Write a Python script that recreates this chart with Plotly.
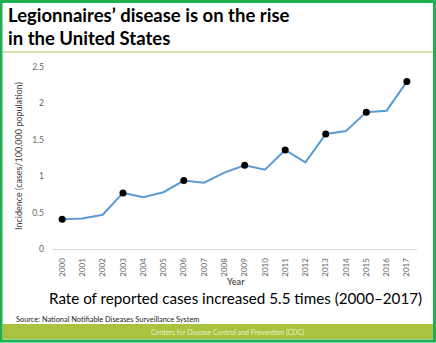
import plotly.graph_objects as go

years = [str(y) for y in range(2000, 2018)]
incidence = [0.41, 0.42, 0.47, 0.77, 0.71, 0.78, 0.94, 0.91, 1.05, 1.15,
             1.09, 1.36, 1.19, 1.58, 1.62, 1.88, 1.90, 2.30]
marked_years = ["2000", "2003", "2006", "2009", "2011", "2013", "2015", "2017"]
y_ticks = [0, 0.5, 1, 1.5, 2, 2.5]
y_tick_labels = ["0", "0.5", "1", "1.5", "2", "2.5"]

marked_vals = [incidence[years.index(y)] for y in marked_years]

W, H = 436, 343
L, R, T, B = 52, 417, 67, 249


def px(x):
    return (x - L) / (R - L)


def py(y):
    return (B - y) / (B - T)


FONT = "Lato"
fig = go.Figure()
fig.add_trace(go.Scatter(x=years, y=incidence, mode="lines",
                         line=dict(color="#5b9bd5", width=2), hoverinfo="skip"))
fig.add_trace(go.Scatter(x=marked_years, y=marked_vals, mode="markers",
                         marker=dict(color="black", size=7), hoverinfo="skip"))

shapes = [
    dict(type="rect", xref="paper", yref="paper", x0=px(1), x1=px(434.5),
         y0=py(341), y1=py(1.5), line=dict(color="#1fae50", width=3),
         fillcolor="rgba(0,0,0,0)", layer="above"),
    dict(type="line", xref="paper", yref="paper", x0=px(3), x1=px(433),
         y0=py(52), y1=py(52), line=dict(color="#c5d68c", width=1.5)),
    dict(type="rect", xref="paper", yref="paper", x0=px(2.5), x1=px(433),
         y0=py(339), y1=py(324), line=dict(width=0), fillcolor="#a9c340", layer="below"),
]


def ann(**kw):
    d = dict(xref="paper", yref="paper", showarrow=False)
    d.update(kw)
    return d


annotations = [
    ann(text="Legionnaires’ disease is on the rise", x=px(6), y=py(15),
        xanchor="left", yanchor="middle", align="left",
        font=dict(family=FONT, size=18.5, color="black", weight="bold")),
    ann(text="in the United States", x=px(6), y=py(38),
        xanchor="left", yanchor="middle", align="left",
        font=dict(family=FONT, size=18.5, color="black", weight="bold")),
    ann(text="Incidence (cases/100,000 population)", x=px(18), y=py(156), textangle=-90,
        xanchor="center", yanchor="middle",
        font=dict(family=FONT, size=9, color="#404040")),
    ann(text="<b>Year</b>", x=px(235), y=py(281), xanchor="center", yanchor="middle",
        font=dict(family=FONT, size=9, color="#595959")),
    ann(text="Rate of reported cases increased 5.5 times (2000–2017)", x=px(235), y=py(298),
        xanchor="center", yanchor="middle",
        font=dict(family=FONT, size=15.2, color="black")),
    ann(text="Source: National Notifiable Diseases Surveillance System", x=px(14), y=py(319),
        xanchor="left", yanchor="middle",
        font=dict(family=FONT, size=7.4, color="#222222")),
    ann(text="Centers for Disease Control and Prevention (CDC)", x=px(227), y=py(332),
        xanchor="center", yanchor="middle",
        font=dict(family=FONT, size=7, color="#e8f0c8")),
]

fig.update_layout(
    width=W, height=H, margin=dict(l=L, r=W - R, t=T, b=H - B),
    paper_bgcolor="white", plot_bgcolor="white", showlegend=False,
    shapes=shapes, annotations=annotations,
    xaxis=dict(type="category", range=[-0.5, 17.5], showgrid=False, zeroline=False,
               showline=True, linecolor="#d9d9d9", linewidth=1, ticks="",
               tickangle=-90, tickfont=dict(family=FONT, size=8, color="#666666"),
               ticklabelstandoff=5, automargin=False),
    yaxis=dict(range=[0, 2.5], tickvals=y_ticks, ticktext=y_tick_labels, showgrid=False,
               zeroline=False, showline=False, ticks="", automargin=False,
               tickfont=dict(family=FONT, size=8.5, color="#666666"), ticklabelstandoff=7),
)

fig.write_html("out.html")
